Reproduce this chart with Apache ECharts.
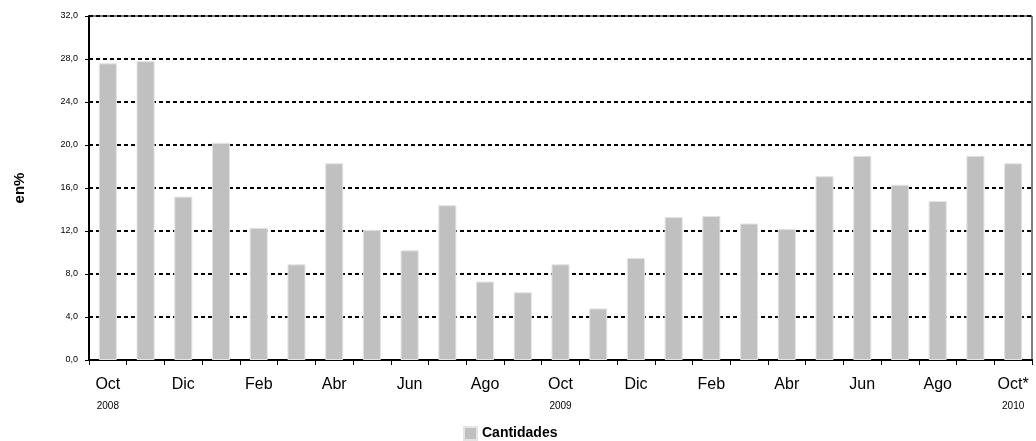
<!DOCTYPE html>
<html>
<head>
<meta charset="utf-8">
<script src="https://cdn.jsdelivr.net/npm/echarts@6/dist/echarts.min.js"></script>
<style>
  html, body { margin: 0; padding: 0; background: #fff; }
  #chart { width: 1036px; height: 441px; }
</style>
</head>
<body>
<div id="chart"></div>
<script>
// Meses (Oct 2008 - Oct 2010)
const months = ['Oct', 'Nov', 'Dic', 'Ene', 'Feb', 'Mar', 'Abr', 'May', 'Jun', 'Jul', 'Ago', 'Sep',
  'Oct', 'Nov', 'Dic', 'Ene', 'Feb', 'Mar', 'Abr', 'May', 'Jun', 'Jul', 'Ago', 'Sep', 'Oct*'];
const years = ['2008', '', '', '', '', '', '', '', '', '', '', '',
  '2009', '', '', '', '', '', '', '', '', '', '', '', '2010'];
const cantidades = [27.6, 27.8, 15.2, 20.2, 12.3, 8.9, 18.3, 12.1, 10.2, 14.4, 7.3, 6.3,
  8.9, 4.8, 9.5, 13.3, 13.4, 12.7, 12.2, 17.1, 19.0, 16.3, 14.8, 19.0, 18.3];
const yTicks = [0, 4, 8, 12, 16, 20, 24, 28, 32];

const chart = echarts.init(document.getElementById('chart'));

const font = '"Liberation Sans", Arial, sans-serif';

chart.setOption({
  animation: false,
  textStyle: { fontFamily: font },
  grid: {
    left: 89,
    right: 4,
    top: 16,
    bottom: 81,
    show: true,
    borderColor: '#000',
    borderWidth: 1
  },
  legend: {
    data: ['Cantidades'],
    left: 458,
    top: 421,
    icon: 'rect',
    itemWidth: 13,
    itemHeight: 13,
    itemGap: 6,
    textStyle: { fontSize: 14, fontWeight: 'bold', color: '#000', fontFamily: font }
  },
  xAxis: {
    type: 'category',
    data: months,
    axisLine: { lineStyle: { color: '#000', width: 2 } },
    axisTick: { show: true, interval: 0, length: 5, lineStyle: { color: '#000', width: 1 } },
    axisLabel: {
      interval: 1,
      margin: 13,
      formatter: (val, idx) => {
        const y = years[idx];
        return '{m|' + val + '}\n{y|' + (y || ' ') + '}';
      },
      rich: {
        m: { fontSize: 16, color: '#000', lineHeight: 24, fontFamily: font },
        y: { fontSize: 10, color: '#000', lineHeight: 18, fontFamily: font }
      }
    }
  },
  yAxis: {
    type: 'value',
    min: yTicks[0],
    max: yTicks[yTicks.length - 1],
    interval: 4,
    name: 'en%',
    nameLocation: 'middle',
    nameRotate: 90,
    nameGap: 62,
    nameTextStyle: { fontSize: 15, fontWeight: 'bold', color: '#000', fontFamily: font },
    axisLine: { show: true, lineStyle: { color: '#000', width: 2 } },
    axisTick: { show: true, length: 4, lineStyle: { color: '#000' } },
    axisLabel: {
      fontSize: 9,
      color: '#000',
      margin: 11,
      formatter: v => v.toFixed(1).replace('.', ',')
    },
    splitLine: {
      show: true,
      lineStyle: { color: '#000', width: 2, type: [4, 3] }
    }
  },
  series: [
    {
      name: 'Cantidades',
      type: 'bar',
      data: cantidades,
      barWidth: '48%',
      itemStyle: { color: '#c0c0c0', borderColor: '#e4e4e4', borderWidth: 1 }
    }
  ]
});
</script>
</body>
</html>
